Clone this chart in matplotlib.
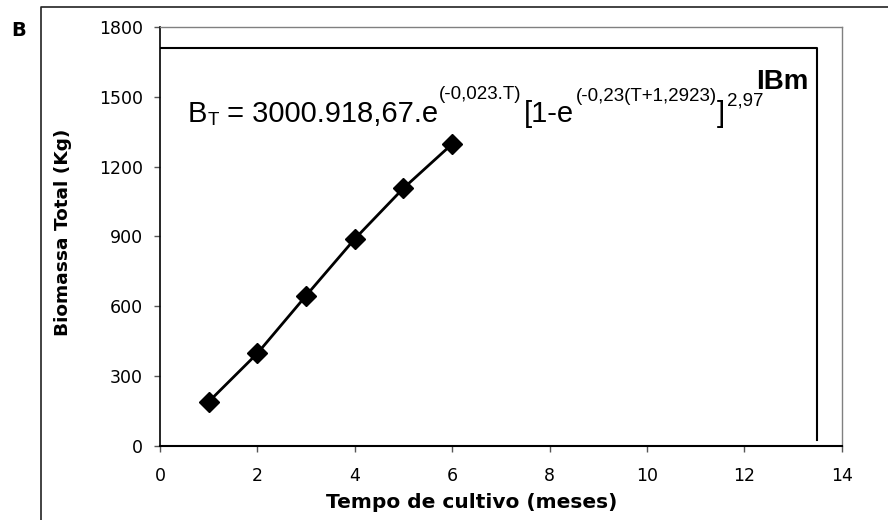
import matplotlib
matplotlib.use("Agg")
import matplotlib.pyplot as plt
from matplotlib.lines import Line2D
from matplotlib.transforms import IdentityTransform

plt.rcParams['font.family'] = ['DejaVu Sans']

# Data
months = [1, 2, 3, 4, 5, 6]
biomass = [189, 397, 645, 889, 1107, 1297]
ibm_x = [0, 13.5, 13.5]
ibm_y = [1710, 1710, 25]
xticks = [0, 2, 4, 6, 8, 10, 12, 14]
yticks = [0, 300, 600, 900, 1200, 1500, 1800]

W, H = 888, 520
fig = plt.figure(figsize=(W / 100, H / 100), dpi=100)
ax = fig.add_axes([160 / W, 1 - 445.7 / H, (841.7 - 160) / W, (445.7 - 27) / H])

ax.plot(months, biomass, color='black', lw=2.0, marker='D', ms=10,
        mfc='black', mec='black', zorder=3)
ax.plot(ibm_x, ibm_y, color='black', lw=1.5, zorder=2)

ax.set_xlim(0, 14)
ax.set_ylim(0, 1800)
ax.set_xticks(xticks)
ax.set_yticks(yticks)
ax.tick_params(axis='both', direction='out', length=4, width=1,
               color='#555555', labelsize=12.5, labelcolor='black')
ax.tick_params(axis='x', pad=11)
ax.tick_params(axis='y', pad=8.5)
for s in ['top', 'right']:
    ax.spines[s].set_color('#808080')
    ax.spines[s].set_linewidth(1.0)
ax.spines['left'].set_color('black')
ax.spines['left'].set_linewidth(1.2)
ax.spines['bottom'].set_color('black')
ax.spines['bottom'].set_linewidth(1.5)

# Axis labels
fig.text(472 / W, 12.3 / H, 'Tempo de cultivo (meses)', ha='center',
         va='baseline', fontsize=14.5, fontweight='bold')
fig.text(62.7 / W, 1 - 232 / H, 'Biomassa Total (Kg)', ha='center',
         va='center', rotation=90, fontsize=13.3, fontweight='bold')

# Panel label
fig.text(11 / W, 1 - 35.7 / H, 'B', ha='left', va='baseline',
         fontsize=14, fontweight='bold')

# IBm label
fig.text(808 / W, 1 - 89 / H, 'IBm', ha='right', va='baseline',
         fontsize=20, fontweight='bold', family='Liberation Sans')

# Outer frame
fig.add_artist(Line2D([41 / W, 41 / W, 1.0], [0.0, 1 - 7 / H, 1 - 7 / H],
                      transform=fig.transFigure, color='#222222', lw=1.2))

# Equation assembled from pieces
renderer = fig.canvas.get_renderer()
base = H - 122
main, small = 21, 13.5
pieces = [
    ('B', main, 0, 0),
    ('T', small, -3, 0),
    (' = 3000.918,67.e', main, 0, 0),
    ('(-0,023.T)', small, 23, 1),
    ('[1-e', main, 0, 3),
    ('(-0,23(T+1,2923)', small, 21, 1),
    (']', main, 0, 0),
    ('2,97', small, 17, 2),
]
x = 188
for txt, size, dy, gap in pieces:
    x += gap
    t = fig.text(x, base + dy, txt, fontsize=size, ha='left', va='baseline',
                 transform=IdentityTransform(), family='Liberation Sans')
    bb = t.get_window_extent(renderer)
    x = bb.x1

fig.savefig('out.png', dpi=100)
